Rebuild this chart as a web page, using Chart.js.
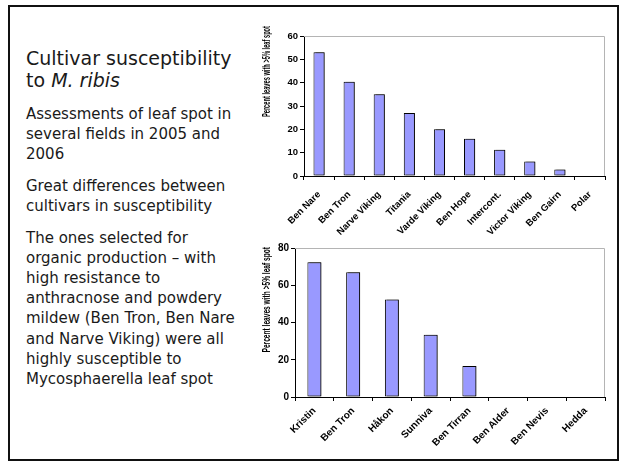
<!DOCTYPE html>
<html>
<head>
<meta charset="utf-8">
<script src="https://cdn.jsdelivr.net/npm/chart.js@4/dist/chart.umd.min.js"></script>
<style>
  html, body { margin: 0; padding: 0; background: #fff; }
  body { width: 620px; height: 461px; position: relative; overflow: hidden; }
  .frame { position: absolute; left: 8px; top: 5px; width: 611px; height: 456px;
           border: 2px solid #111; box-sizing: border-box; }
  .txt { position: absolute; left: 26px; color: #1a1a1a; font-family: "DejaVu Sans", sans-serif;
         white-space: nowrap; }
  .title { font-size: 19px; line-height: 22px; }
  .body { font-size: 15px; line-height: 20.2px; }
  canvas { position: absolute; }
</style>
</head>
<body>
<div class="frame"></div>
<div class="txt title" style="top:47px">Cultivar susceptibility<br>to <i>M. ribis</i></div>
<div class="txt body" style="top:104px">Assessments of leaf spot in<br>several fields in 2005 and<br>2006</div>
<div class="txt body" style="top:176px">Great differences between<br>cultivars in susceptibility</div>
<div class="txt body" style="top:227.5px">The ones selected for<br>organic production – with<br>high resistance to<br>anthracnose and powdery<br>mildew (Ben Tron, Ben Nare<br>and Narve Viking) were all<br>highly susceptible to<br>Mycosphaerella leaf spot</div>

<canvas id="c1" width="355" height="220" style="left:255px; top:20px"></canvas>
<canvas id="c2" width="355" height="215" style="left:255px; top:240px"></canvas>

<script>
// Leaf spot assessments, 2005
const cultivars2005 = ['Ben Nare', 'Ben Tron', 'Narve Viking', 'Titania', 'Varde Viking',
                       'Ben Hope', 'Intercont.', 'Victor Viking', 'Ben Gairn', 'Polar'];
const leafSpot2005 = [53, 40.4, 35, 27, 20, 16, 11.2, 6.2, 2.8, 0];

// Leaf spot assessments, 2006
const cultivars2006 = ['Kristin', 'Ben Tron', 'Håkon', 'Sunniva', 'Ben Tirran',
                       'Ben Alder', 'Ben Nevis', 'Hedda'];
const leafSpot2006 = [72.3, 67, 52.3, 33.4, 16.6, 0, 0, 0];

const yTitle = 'Percent leaves with >5% leaf spot';
const FONT = '"Liberation Sans", Arial, sans-serif';

// Light grey frame along the top and right of the plot area
const plotFrame = {
  id: 'plotFrame',
  beforeDatasetsDraw(chart) {
    const { ctx, chartArea: a } = chart;
    ctx.save();
    ctx.strokeStyle = '#b4b4b4';
    ctx.lineWidth = 1;
    ctx.beginPath();
    ctx.moveTo(a.left, a.top + 0.5);
    ctx.lineTo(a.right - 0.5, a.top + 0.5);
    ctx.lineTo(a.right - 0.5, a.bottom);
    ctx.stroke();
    ctx.restore();
  }
};

// Drop shadow to the right of each bar
const barShadow = {
  id: 'barShadow',
  beforeDatasetDraw(chart) {
    const ctx = chart.ctx;
    ctx.save();
    ctx.shadowColor = 'rgba(0,0,0,0.55)';
    ctx.shadowOffsetX = 2;
    ctx.shadowOffsetY = 0;
    ctx.shadowBlur = 0;
  },
  afterDatasetDraw(chart) {
    chart.ctx.restore();
  }
};

// Condensed vertical axis title, aligned toward the top of the axis
const condensedTitle = {
  id: 'condensedTitle',
  afterDraw(chart, args, opts) {
    const ctx = chart.ctx;
    ctx.save();
    ctx.translate(opts.x, opts.top);
    ctx.rotate(-Math.PI / 2);
    ctx.scale(opts.squeeze, 1);
    ctx.font = 'bold ' + opts.size + 'px ' + FONT;
    ctx.fillStyle = '#000';
    ctx.textAlign = 'right';
    ctx.textBaseline = 'middle';
    ctx.fillText(opts.text, 0, 0);
    ctx.restore();
  }
};

function makeChart(id, labels, values, cfg) {
  return new Chart(document.getElementById(id), {
    type: 'bar',
    data: {
      labels: labels,
      datasets: [{
        data: values,
        backgroundColor: '#9999ff',
        borderColor: '#000',
        borderWidth: 1,
        borderSkipped: false,
        categoryPercentage: 1,
        barPercentage: cfg.barPct
      }]
    },
    options: {
      responsive: false,
      animation: false,
      devicePixelRatio: 1,
      layout: { padding: { top: cfg.padTop, right: 5, left: 0, bottom: 0 } },
      plugins: {
        legend: { display: false },
        tooltip: { enabled: false },
        condensedTitle: { text: yTitle, x: 12, top: cfg.titleTop, size: 10, squeeze: cfg.squeeze }
      },
      scales: {
        x: {
          afterFit(scale) { scale.height = cfg.xHeight; },
          ticks: {
            autoSkip: false, maxRotation: 45, minRotation: 45,
            color: '#000', font: { family: FONT, weight: 'bold', size: cfg.xFont }, padding: cfg.xPad
          },
          grid: { drawOnChartArea: false, offset: true, tickLength: 4, color: '#000' },
          border: { color: '#000', width: 1 }
        },
        y: {
          min: 0, max: cfg.yMax,
          afterFit(scale) { scale.width = cfg.yWidth; },
          ticks: {
            stepSize: cfg.yStep, color: '#000',
            font: { family: FONT, weight: 'bold', size: cfg.yFont }, padding: 2
          },
          grid: { drawOnChartArea: false, tickLength: 4, color: '#000' },
          border: { color: '#000', width: 1 }
        }
      }
    },
    plugins: [plotFrame, barShadow, condensedTitle]
  });
}

makeChart('c1', cultivars2005, leafSpot2005, {
  barPct: 0.37, padTop: 16, xHeight: 64, yWidth: 49, yMax: 60, yStep: 10,
  xFont: 9.5, yFont: 9.5, xPad: 9, titleTop: 6, squeeze: 0.57
});

makeChart('c2', cultivars2006, leafSpot2006, {
  barPct: 0.36, padTop: 7, xHeight: 58, yWidth: 40, yMax: 80, yStep: 20,
  xFont: 10, yFont: 10, xPad: 4, titleTop: 7, squeeze: 0.66
});
</script>
</body>
</html>
